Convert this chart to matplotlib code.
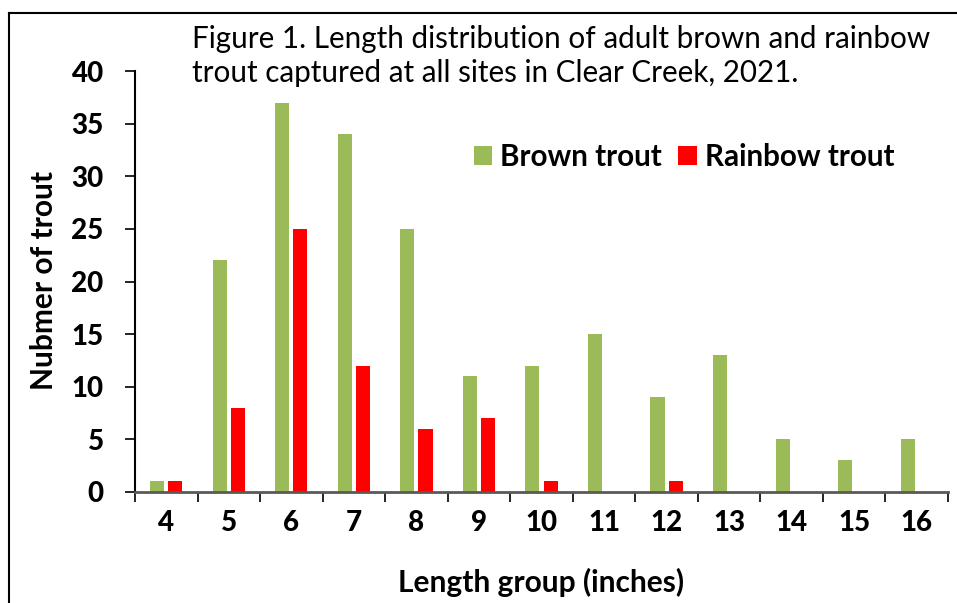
import matplotlib
matplotlib.use("Agg")
import matplotlib.pyplot as plt
import numpy as np
from matplotlib.lines import Line2D

categories = ["4", "5", "6", "7", "8", "9", "10", "11", "12", "13", "14", "15", "16"]
brown = [1, 22, 37, 34, 25, 11, 12, 15, 9, 13, 5, 3, 5]
rainbow = [1, 8, 25, 12, 6, 7, 1, 0, 1, 0, 0, 0, 0]
yticks = [0, 5, 10, 15, 20, 25, 30, 35, 40]
title_lines = ['Figure 1. Length distribution of adult brown and rainbow',
               'trout captured at all sites in Clear Creek, 2021.']

plt.rcParams['font.family'] = ['Lato', 'DejaVu Sans']

W, H = 957, 603
fig = plt.figure(figsize=(W / 100, H / 100), dpi=100)
ax = fig.add_axes([135 / W, 1 - 492 / H, (948 - 135) / W, (492 - 71) / H])

x = np.arange(len(categories))
bw = 0.225
ax.bar(x - 0.145, brown, width=bw, color='#9BBB59', label='Brown trout', zorder=2)
ax.bar(x + 0.145, rainbow, width=bw, color='#FF0000', label='Rainbow trout', zorder=2)

ax.set_xlim(-0.5, len(categories) - 0.5)
ax.set_ylim(0, 40)
ax.set_yticks(yticks)
ax.set_yticklabels([str(v) for v in yticks], fontsize=20, fontweight='black')
ax.set_xticks(x)
ax.set_xticklabels(categories, fontsize=20, fontweight='black')
ax.set_xticks(np.arange(len(categories) + 1) - 0.5, minor=True)
ax.tick_params(axis='x', which='major', length=0, pad=13)
ax.tick_params(axis='x', which='minor', length=7.5, width=1.2, direction='out', color='black')
ax.tick_params(axis='y', length=7.5, width=1.2, pad=15, color='black')

for s in ['top', 'right']:
    ax.spines[s].set_visible(False)
ax.spines['left'].set_linewidth(1.5)
ax.spines['left'].set_color('black')
ax.spines['bottom'].set_linewidth(2)
ax.spines['bottom'].set_color('#595959')

ax.set_ylabel('Nubmer of trout', fontsize=21.5, fontweight='bold')
ax.yaxis.set_label_coords(44 / W, 1 - 281 / H, transform=fig.transFigure)
ax.set_xlabel('Length group (inches)', fontsize=21.5, fontweight='bold')
ax.xaxis.set_label_coords(541 / W, 1 - 582 / H, transform=fig.transFigure)
ax.xaxis.label.set_va('center')
ax.yaxis.label.set_va('center')

leg = ax.legend(loc='center left', bbox_to_anchor=(474 / W, 1 - 157 / H),
                bbox_transform=fig.transFigure, ncol=2, frameon=False,
                prop={'size': 21.3, 'weight': 'bold'}, handlelength=0.62,
                handleheight=0.62, handletextpad=0.27, columnspacing=0.55,
                borderpad=0, borderaxespad=0)

fig.text(192 / W, 1 - 48 / H, title_lines[0], fontsize=21.3, ha='left', va='baseline')
fig.text(192 / W, 1 - 82 / H, title_lines[1], fontsize=21.3, ha='left', va='baseline')

# outer frame (top and left edges)
fig.add_artist(Line2D([9 / W, 1], [1 - 13 / H, 1 - 13 / H], color='black', lw=1.5, transform=fig.transFigure))
fig.add_artist(Line2D([9 / W, 9 / W], [0, 1 - 13 / H], color='black', lw=1.5, transform=fig.transFigure))

fig.savefig('out.png', dpi=100)
